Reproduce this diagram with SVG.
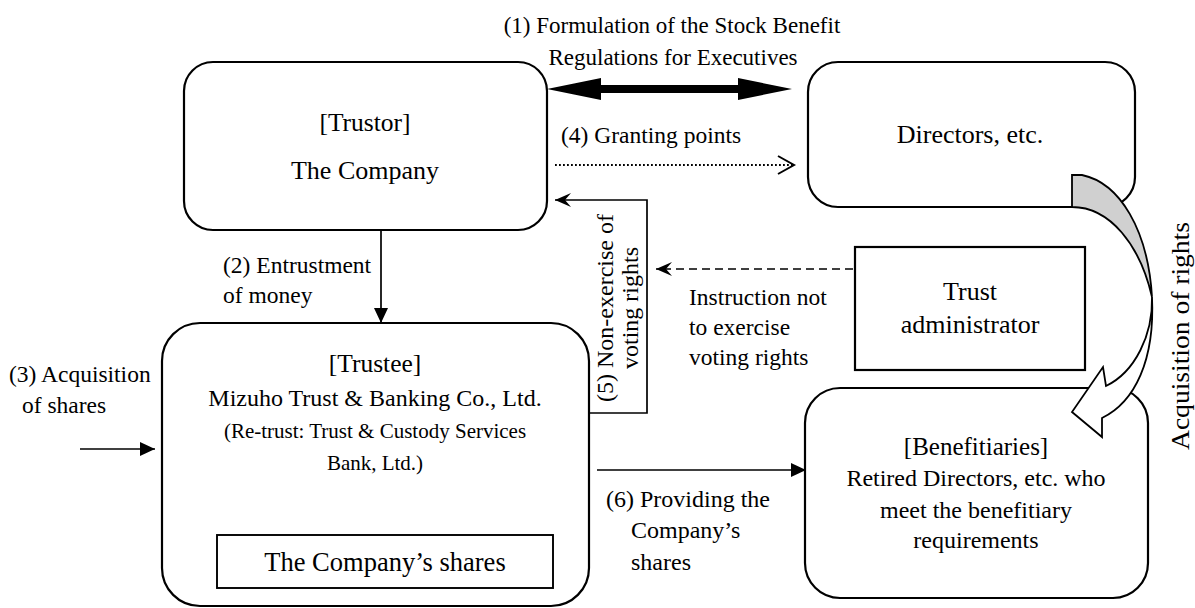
<svg xmlns="http://www.w3.org/2000/svg" width="1195" height="608" viewBox="0 0 1195 608">
<style>
text{font-family:"Liberation Serif","Times New Roman",serif;fill:#000}
.box{fill:#fff;stroke:#000;stroke-width:2.2}
.ln{fill:none;stroke:#000;stroke-width:1.7}
.c{text-anchor:middle}
</style>
<defs>
<marker id="tri" markerUnits="userSpaceOnUse" markerWidth="16" markerHeight="14" refX="15" refY="7" orient="auto"><path d="M0,0 L15,7 L0,14 Z" fill="#000"/></marker>
<marker id="stealth" markerUnits="userSpaceOnUse" markerWidth="18" markerHeight="14" refX="16" refY="7" orient="auto"><path d="M0,0 L16,7 L0,14 L6,7 Z" fill="#000"/></marker>
<marker id="chev" markerUnits="userSpaceOnUse" markerWidth="20" markerHeight="22" refX="17" refY="11" orient="auto"><path d="M1,2 L17,11 L1,20" fill="none" stroke="#000" stroke-width="2"/></marker>
</defs>

<g font-size="23.5">
<g id="trustor">
<rect class="box" x="184" y="62" width="363" height="168" rx="29"/>
<text class="c" x="365" y="131" font-size="25.5">[Trustor]</text>
<text class="c" x="365" y="179" font-size="26">The Company</text>
</g>

<g id="directors">
<rect class="box" x="808" y="62" width="327" height="145" rx="30"/>
<text class="c" x="970" y="143" font-size="26">Directors, etc.</text>
</g>

<g id="trust-admin">
<rect class="box" x="855" y="247" width="230" height="123"/>
<text class="c" x="970" y="300" font-size="26">Trust</text>
<text class="c" x="970" y="333" font-size="26">administrator</text>
</g>

<g id="trustee">
<rect class="box" x="162" y="323" width="427" height="283" rx="38"/>
<text class="c" x="375" y="372" font-size="25.5">[Trustee]</text>
<text class="c" x="375" y="406" font-size="24">Mizuho Trust &amp; Banking Co., Ltd.</text>
<text class="c" x="375" y="438" font-size="21">(Re-trust: Trust &amp; Custody Services</text>
<text class="c" x="375" y="470" font-size="21">Bank, Ltd.)</text>
<g id="shares">
<rect x="217" y="535" width="336" height="53" fill="#fff" stroke="#000" stroke-width="1.9"/>
<text class="c" x="385" y="571" font-size="26.5">The Company’s shares</text>
</g>
</g>

<g id="beneficiaries">
<rect class="box" x="805" y="388" width="343" height="210" rx="35"/>
<text class="c" x="976" y="455" font-size="25">[Benefitiaries]</text>
<text class="c" x="976" y="486" font-size="24">Retired Directors, etc. who</text>
<text class="c" x="976" y="518" font-size="24">meet the benefitiary</text>
<text class="c" x="976" y="548" font-size="24">requirements</text>
</g>

<g id="connectors">
<path d="M547,89 L601,78 L601,85 L738,85 L738,78 L792,89 L738,100 L738,93 L601,93 L601,100 Z" fill="#000"/>
<line x1="555" y1="165" x2="794" y2="165" stroke="#000" stroke-width="1.8" stroke-dasharray="1.8,2.2" marker-end="url(#chev)"/>
<polyline class="ln" points="589,413 647,413 647,200 555,200" marker-end="url(#stealth)"/>
<line class="ln" x1="853" y1="269" x2="656" y2="269" stroke-dasharray="8,5" marker-end="url(#stealth)"/>
<line class="ln" x1="381" y1="230" x2="381" y2="323" marker-end="url(#tri)"/>
<line class="ln" x1="80" y1="449" x2="155" y2="449" marker-end="url(#tri)"/>
<line class="ln" x1="597" y1="470" x2="806" y2="470" marker-end="url(#tri)"/>
<g id="acq-rights-arrow" stroke="#000" stroke-width="1.8" stroke-linejoin="miter">
<path d="M1072,175 L1082,175 C1120,183 1148,230 1152,297 C1140,245 1110,207 1072,207 Z" fill="#d0d0d0"/>
<path d="M1152,297 C1153,335 1135,372 1106,386 L1103,367 L1072,412 L1102,437 L1102,418 C1135,402 1155,360 1152,297 Z" fill="#fff"/>
</g>
</g>

<g id="labels">
<text class="c" x="672" y="33" font-size="23">(1) Formulation of the Stock Benefit</text>
<text class="c" x="673" y="65" font-size="23">Regulations for Executives</text>
<text x="561" y="143">(4) Granting points</text>
<text x="223" y="273">(2) Entrustment</text>
<text x="223" y="303">of money</text>
<text x="9" y="382">(3) Acquisition</text>
<text x="22" y="413">of shares</text>
<text x="689" y="305">Instruction not</text>
<text x="689" y="335">to exercise</text>
<text x="689" y="365">voting rights</text>
<text x="606" y="507" font-size="24">(6) Providing the</text>
<text x="631" y="538" font-size="24">Company’s</text>
<text x="631" y="570" font-size="24">shares</text>
<text class="c" transform="translate(613,308) rotate(-90)" font-size="24">(5) Non-exercise of</text>
<text class="c" transform="translate(638,308) rotate(-90)" font-size="24">voting rights</text>
<text class="c" transform="translate(1189,336) rotate(-90)" font-size="25" textLength="228" lengthAdjust="spacingAndGlyphs">Acquisition of rights</text>
</g>
</g>
</svg>
